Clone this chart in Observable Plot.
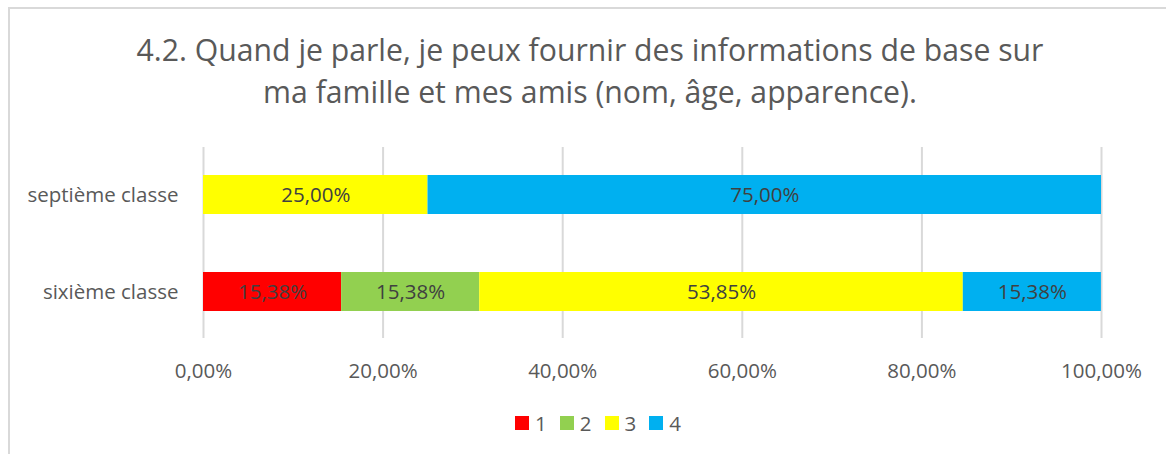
<!DOCTYPE html>
<html>
<head>
<meta charset="utf-8">
<script src="https://cdn.jsdelivr.net/npm/d3@7"></script>
<script src="https://cdn.jsdelivr.net/npm/@observablehq/plot@0.6"></script>
<style>
  html, body { margin: 0; padding: 0; background: #fff; }
  #frame { position: relative; width: 1166px; height: 454px; overflow: hidden; font-family: "Open Sans", sans-serif; color: #595959; }
  #border { position: absolute; left: 8px; top: 7px; width: 1170px; height: 460px; border: 2px solid #d9d9d9; box-sizing: border-box; }
  #title { position: absolute; left: 0; top: 29px; width: 1180px; text-align: center; font-size: 30.2px; line-height: 42px; color: #595959; }
  #chart { position: absolute; left: 0; top: 135px; }
  #chart svg { background: transparent; }
  #legend { position: absolute; left: 8px; top: 408px; width: 1180px; display: flex; justify-content: center; gap: 13px; font-size: 20.5px; line-height: 30px; color: #595959; }
  #legend span.item { display: inline-flex; align-items: center; gap: 6px; }
  #legend span.sw { width: 14px; height: 14px; display: inline-block; }
</style>
</head>
<body>
<div id="frame">
  <div id="border"></div>
  <div id="title">4.2. Quand je parle, je peux fournir des informations de base sur<br>ma famille et mes amis (nom, âge, apparence).</div>
  <div id="chart"></div>
  <div id="legend"></div>
</div>
<script>
const categories = ["septième classe", "sixième classe"];
const series = ["1", "2", "3", "4"];
const colors = ["#FF0000", "#92D050", "#FFFF00", "#00B0F0"];
const values1 = [0, 15.38];
const values2 = [0, 15.38];
const values3 = [25.00, 53.85];
const values4 = [75.00, 15.38];
const xTicks = [0, 20, 40, 60, 80, 100];

const seriesValues = [values1, values2, values3, values4];
const fmt = v => v.toFixed(2).replace(".", ",") + "%";
const data = [];
categories.forEach((c, i) => {
  series.forEach((s, j) => {
    const v = seriesValues[j][i];
    if (v > 0) data.push({category: c, series: s, value: v, label: fmt(v)});
  });
});

const chart = Plot.plot({
  width: 1166,
  height: 250,
  marginLeft: 203,
  marginRight: 65,
  marginTop: 12,
  marginBottom: 47,
  style: {fontFamily: "'Open Sans', sans-serif", fontSize: "20.5px", color: "#595959", background: "transparent"},
  x: {domain: [0, 100], ticks: xTicks, tickFormat: fmt, tickSize: 0, tickPadding: 25, label: null, grid: false},
  y: {domain: categories, padding: 0.6, paddingOuter: 0.284, tickSize: 0, tickPadding: 25, label: null},
  color: {domain: series, range: colors},
  marks: [
    Plot.ruleX(xTicks, {stroke: "#d9d9d9", strokeWidth: 2}),
    Plot.barX(data, Plot.stackX({x: "value", y: "category", fill: "series", order: series})),
    Plot.text(data, Plot.stackX({x: "value", y: "category", z: "series", order: series, text: "label", fill: "#404040", fontSize: 20.5}))
  ]
});
document.getElementById("chart").appendChild(chart);

const legend = document.getElementById("legend");
series.forEach((s, j) => {
  const item = document.createElement("span");
  item.className = "item";
  const sw = document.createElement("span");
  sw.className = "sw";
  sw.style.background = colors[j];
  item.appendChild(sw);
  item.appendChild(document.createTextNode(s));
  legend.appendChild(item);
});
</script>
</body>
</html>
